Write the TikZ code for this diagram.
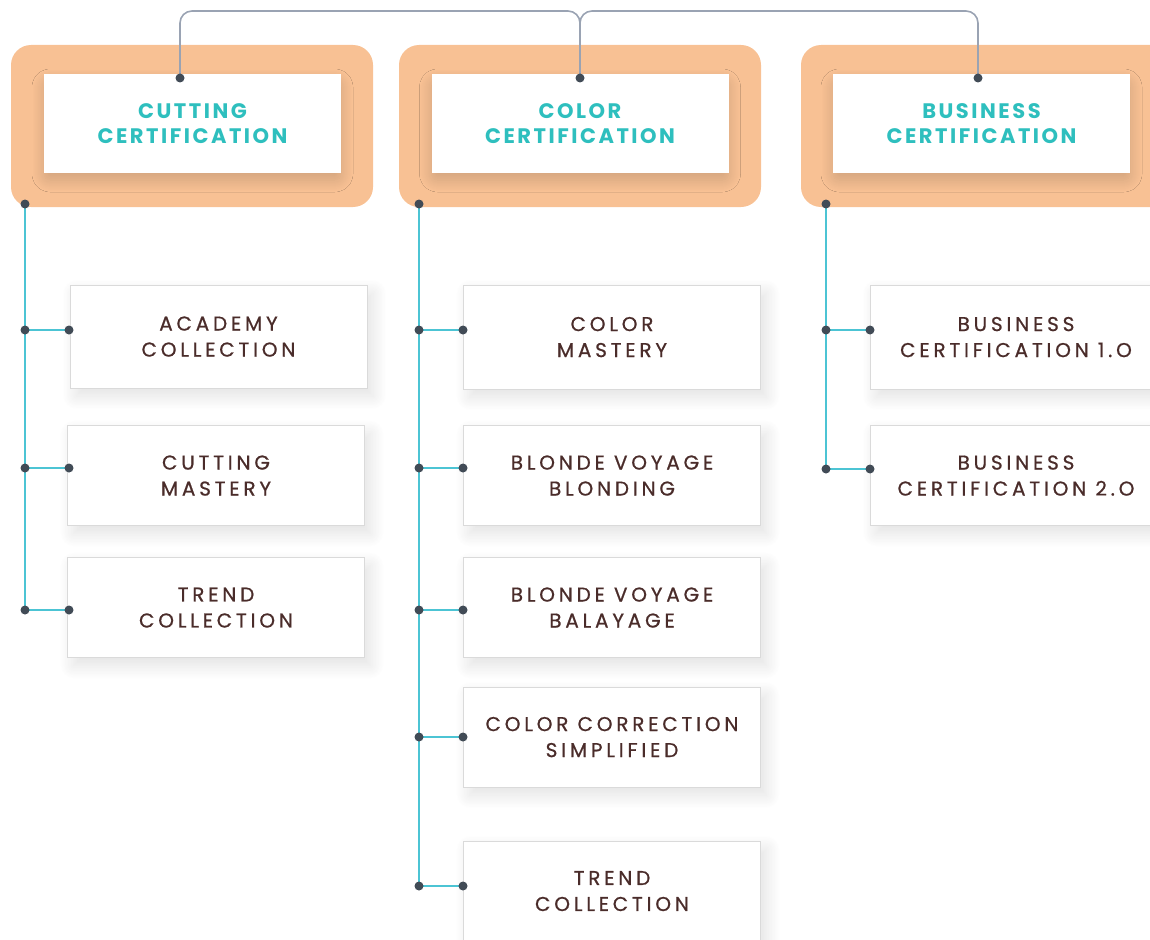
\documentclass[tikz,border=0pt]{standalone}
\usepackage{fontspec}
\setmainfont{Poppins}
\newfontfamily\headfont[LetterSpace=12]{Poppins}
\newfontfamily\childfont[LetterSpace=19, FakeBold=0.7]{Poppins}
\usetikzlibrary{shadows.blur}
\definecolor{peach}{HTML}{F8C194}
\definecolor{tealtxt}{HTML}{2EBFBE}
\definecolor{browntxt}{HTML}{4A2C2A}
\definecolor{dotc}{HTML}{414B56}
\definecolor{greyline}{HTML}{9AA3B3}
\definecolor{tealline}{HTML}{4CC4D4}
\definecolor{boxborder}{HTML}{DADADA}
\tikzset{
  outerbox/.style={fill=peach, rounded corners=20pt, draw=none},
  headbox/.style={fill=white, draw=none, minimum width=297pt, minimum height=99pt,
    align=center, text=tealtxt, font=\headfont\fontsize{21}{26}\selectfont\bfseries,
    blur shadow={shadow xshift=0pt, shadow yshift=-7pt, shadow blur radius=12pt,
      shadow opacity=16, shadow blur steps=24, shadow blur extra rounding=6pt}},
  childbox/.style={fill=white, draw=boxborder, line width=0.8pt, minimum width=297pt,
    minimum height=100pt, align=center, text=browntxt, text depth=-11pt,
    font=\childfont\fontsize{20}{26}\selectfont,
    blur shadow={shadow xshift=6pt, shadow yshift=-8pt, shadow blur radius=14pt,
      shadow opacity=12, shadow blur steps=20}},
  dot/.style={circle, fill=dotc, inner sep=0pt, minimum size=9pt},
  gline/.style={draw=greyline, line width=1.6pt, rounded corners=12pt},
  tline/.style={draw=tealline, line width=1.8pt},
}
\begin{document}
\begin{tikzpicture}[x=1pt,y=-1pt]
\useasboundingbox (0,0) rectangle (1150,939);
% orange boxes
\fill[outerbox] (11,45) rectangle (373,207);
\fill[outerbox] (399,45) rectangle (761,207);
\fill[outerbox] (801,45) rectangle (1190,207);
% header boxes
\node[headbox] (h1) at (192.5,123.5) {CUTTING\\[-1pt]CERTIFICATION};
\node[headbox] (h2) at (580,123.5) {COLOR\\[-1pt]CERTIFICATION};
\node[headbox] (h3) at (981.5,123.5) {BUSINESS\\[-1pt]CERTIFICATION};
% child boxes col 1
\node[childbox, minimum height=103pt] (c11) at (218.5,336.5) {ACADEMY\\COLLECTION};
\node[childbox] (c12) at (216,475.5) {CUTTING\\MASTERY};
\node[childbox] (c13) at (216,607.5) {TREND\\COLLECTION};
% col 2
\node[childbox, minimum height=104pt] (c21) at (612,337) {COLOR\\MASTERY};
\node[childbox] (c22) at (612,475.5) {BLONDE VOYAGE\\BLONDING};
\node[childbox] (c23) at (612,607.5) {BLONDE VOYAGE\\BALAYAGE};
\node[childbox] (c24) at (612,737) {COLOR CORRECTION\\SIMPLIFIED};
\node[childbox] (c25) at (612,891) {TREND\\COLLECTION};
% col 3
\node[childbox, minimum width=292pt, minimum height=104pt] (c31) at (1016,337) {BUSINESS\\CERTIFICATION 1.O};
\node[childbox, minimum width=292pt] (c32) at (1016,475.5) {BUSINESS\\CERTIFICATION 2.O};
% dot anchors
\coordinate (jtop) at (580,11);
\foreach \n/\x/\y in {t1/180/78, t2/580/78, t3/978/78,
  b1/25/204, b2/419/204, b3/826/204,
  l11/25/330, l12/25/468, l13/25/610, r11/69/330, r12/69/468, r13/69/610,
  l21/419/330, l22/419/468, l23/419/610, l24/419/737, l25/419/886,
  r21/463/330, r22/463/468, r23/463/610, r24/463/737, r25/463/886,
  l31/826/330, l32/826/469, r31/870/330, r32/870/469}
  \coordinate (\n) at (\x,\y);
% connectors
\draw[gline] (t1) |- (jtop) -- (t2);
\draw[gline] (t3) |- (jtop) -- (t2);
\draw[tline] (b1) -- (l13);
\draw[tline] (b2) -- (l25);
\draw[tline] (b3) -- (l32);
\foreach \a/\b in {l11/r11,l12/r12,l13/r13,l21/r21,l22/r22,l23/r23,l24/r24,l25/r25,l31/r31,l32/r32}
  \draw[tline] (\a) -- (\b);
% dots on top
\foreach \n in {t1,t2,t3,b1,b2,b3,l11,l12,l13,r11,r12,r13,l21,l22,l23,l24,l25,r21,r22,r23,r24,r25,l31,l32,r31,r32}
  \node[dot] at (\n) {};
\end{tikzpicture}
\end{document}
